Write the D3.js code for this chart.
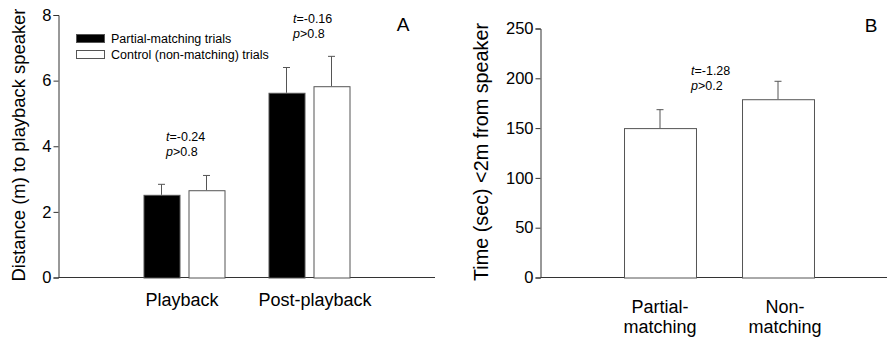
<!DOCTYPE html>
<html><head><meta charset="utf-8">
<script src="https://cdn.jsdelivr.net/npm/d3@7"></script>
<style>
html,body{margin:0;padding:0;background:#fff;}
svg{display:block;font-family:"Liberation Sans",Arial,sans-serif;}
</style></head>
<body><svg id="c" width="887" height="343"></svg>
<script>
// Panel A data
const phasesA = ["Playback", "Post-playback"];
const seriesA = ["Partial-matching trials", "Control (non-matching) trials"];
const meanPartialA = [2.52, 5.63];
const errPartialA = [0.32, 0.77];
const meanControlA = [2.66, 5.83];
const errControlA = [0.45, 0.91];
const ticksA = [0, 2, 4, 6, 8];
const statsA = [["t", "=-0.24", "p", ">0.8"], ["t", "=-0.16", "p", ">0.8"]];

// Panel B data
const catsB = [["Partial-", "matching"], ["Non-", "matching"]];
const meanB = [150, 179];
const errB = [18.5, 18];
const ticksB = [0, 50, 100, 150, 200, 250];
const statsB = ["t", "=-1.28", "p", ">0.2"];

const svg = d3.select("#c");
const axisCol = "#333";
const barStroke = "#555";

// ---------- Panel A ----------
const gA = svg.append("g");
const yA = d3.scaleLinear().domain([0, 8]).range([277.5, 15]);
const xA = d3.scaleBand().domain(phasesA).range([121.5, 371.5]).paddingInner(0).paddingOuter(0);
const xSubA = d3.scaleBand().domain(seriesA).range([22, 103]).paddingInner(0.2);

const axA = d3.axisLeft(yA).tickValues(ticksA).tickSize(5).tickFormat(d3.format("d"));
const gAxA = gA.append("g").attr("transform", "translate(58.5,0)").call(axA);
gAxA.select(".domain").attr("stroke", axisCol);
gAxA.selectAll(".tick line").attr("stroke", axisCol);
gAxA.selectAll(".tick text").attr("font-size", 16.5).attr("fill", "#000").attr("x", -7).attr("font-family", "Liberation Sans, Arial, sans-serif");
gA.append("line").attr("x1", 58.5).attr("x2", 435).attr("y1", yA(0)).attr("y2", yA(0)).attr("stroke", axisCol);

const dataA = [];
phasesA.forEach((p, i) => {
  dataA.push({phase: p, s: seriesA[0], v: meanPartialA[i], e: errPartialA[i], fill: "#000"});
  dataA.push({phase: p, s: seriesA[1], v: meanControlA[i], e: errControlA[i], fill: "#fff"});
});
const barA = gA.selectAll("g.bar").data(dataA).join("g").attr("class", "bar");
barA.append("line")
  .attr("x1", d => xA(d.phase) + xSubA(d.s) + xSubA.bandwidth() / 2)
  .attr("x2", d => xA(d.phase) + xSubA(d.s) + xSubA.bandwidth() / 2)
  .attr("y1", d => yA(d.v)).attr("y2", d => yA(d.v + d.e)).attr("stroke", barStroke);
barA.append("line")
  .attr("x1", d => xA(d.phase) + xSubA(d.s) + xSubA.bandwidth() / 2 - 3.5)
  .attr("x2", d => xA(d.phase) + xSubA(d.s) + xSubA.bandwidth() / 2 + 3.5)
  .attr("y1", d => yA(d.v + d.e)).attr("y2", d => yA(d.v + d.e)).attr("stroke", barStroke);
barA.append("rect")
  .attr("x", d => xA(d.phase) + xSubA(d.s) + 0.5)
  .attr("width", xSubA.bandwidth())
  .attr("y", d => yA(d.v) + 0.5)
  .attr("height", d => yA(0) - yA(d.v))
  .attr("fill", d => d.fill).attr("stroke", barStroke);

gA.selectAll("text.cat").data(phasesA).join("text").attr("class", "cat")
  .attr("x", (d, i) => xA(d) + xA.bandwidth() / 2 + (i === 0 ? -2 : 6))
  .attr("y", 306).attr("text-anchor", "middle").attr("font-size", 18).text(d => d);

const statPosA = [[166, 141, 156], [293, 23, 38]];
statsA.forEach((s, i) => {
  const t1 = gA.append("text").attr("x", statPosA[i][0]).attr("y", statPosA[i][1]).attr("font-size", 12.5);
  t1.append("tspan").attr("font-style", "italic").text(s[0]);
  t1.append("tspan").text(s[1]);
  const t2 = gA.append("text").attr("x", statPosA[i][0]).attr("y", statPosA[i][2]).attr("font-size", 12.5);
  t2.append("tspan").attr("font-style", "italic").text(s[2]);
  t2.append("tspan").text(s[3]);
});

const legFills = ["#000", "#fff"];
seriesA.forEach((s, i) => {
  gA.append("rect").attr("x", 76.5).attr("y", 34.5 + i * 16).attr("width", 28).attr("height", 8)
    .attr("fill", legFills[i]).attr("stroke", barStroke);
  gA.append("text").attr("x", 111).attr("y", 43 + i * 16).attr("font-size", 12.5).text(s);
});

gA.append("text").attr("transform", "translate(25,145) rotate(-90)").attr("text-anchor", "middle")
  .attr("font-size", 18.4).text("Distance (m) to playback speaker");
gA.append("text").attr("x", 403).attr("y", 31).attr("text-anchor", "middle").attr("font-size", 19).text("A");

// ---------- Panel B ----------
const gB = svg.append("g");
const yB = d3.scaleLinear().domain([0, 250]).range([277.5, 28.5]);
const xB = d3.scaleBand().domain([0, 1]).range([601, 837]).paddingInner(0.39).paddingOuter(0.195);

const axB = d3.axisLeft(yB).tickValues(ticksB).tickSize(5).tickFormat(d3.format("d"));
const gAxB = gB.append("g").attr("transform", "translate(540.5,0)").call(axB);
gAxB.select(".domain").attr("stroke", axisCol);
gAxB.selectAll(".tick line").attr("stroke", axisCol);
gAxB.selectAll(".tick text").attr("font-size", 16.5).attr("fill", "#000").attr("x", -7).attr("font-family", "Liberation Sans, Arial, sans-serif");
gB.append("line").attr("x1", 540.5).attr("x2", 887).attr("y1", yB(0)).attr("y2", yB(0)).attr("stroke", axisCol);

const dataB = meanB.map((v, i) => ({i, v, e: errB[i]}));
const barB = gB.selectAll("g.bar").data(dataB).join("g").attr("class", "bar");
barB.append("line")
  .attr("x1", d => xB(d.i) + xB.bandwidth() / 2).attr("x2", d => xB(d.i) + xB.bandwidth() / 2)
  .attr("y1", d => yB(d.v)).attr("y2", d => yB(d.v + d.e)).attr("stroke", barStroke);
barB.append("line")
  .attr("x1", d => xB(d.i) + xB.bandwidth() / 2 - 3.5).attr("x2", d => xB(d.i) + xB.bandwidth() / 2 + 3.5)
  .attr("y1", d => yB(d.v + d.e)).attr("y2", d => yB(d.v + d.e)).attr("stroke", barStroke);
barB.append("rect")
  .attr("x", d => xB(d.i) + 0.5).attr("width", xB.bandwidth())
  .attr("y", d => yB(d.v) + 0.5).attr("height", d => yB(0) - yB(d.v))
  .attr("fill", "#fff").attr("stroke", barStroke);

catsB.forEach((c, i) => {
  const cx = xB(i) + xB.bandwidth() / 2 + (i === 0 ? 0 : 7);
  gB.append("text").attr("x", cx).attr("y", 313).attr("text-anchor", "middle").attr("font-size", 18).text(c[0]);
  gB.append("text").attr("x", cx).attr("y", 333).attr("text-anchor", "middle").attr("font-size", 18).text(c[1]);
});

const s1 = gB.append("text").attr("x", 691).attr("y", 75).attr("font-size", 12.5);
s1.append("tspan").attr("font-style", "italic").text(statsB[0]);
s1.append("tspan").text(statsB[1]);
const s2 = gB.append("text").attr("x", 691).attr("y", 90).attr("font-size", 12.5);
s2.append("tspan").attr("font-style", "italic").text(statsB[2]);
s2.append("tspan").text(statsB[3]);

gB.append("text").attr("transform", "translate(488,152) rotate(-90)").attr("text-anchor", "middle")
  .attr("font-size", 19.8).text("Time (sec) <2m from speaker");
gB.append("text").attr("x", 871).attr("y", 32).attr("text-anchor", "middle").attr("font-size", 19).text("B");
</script></body></html>
